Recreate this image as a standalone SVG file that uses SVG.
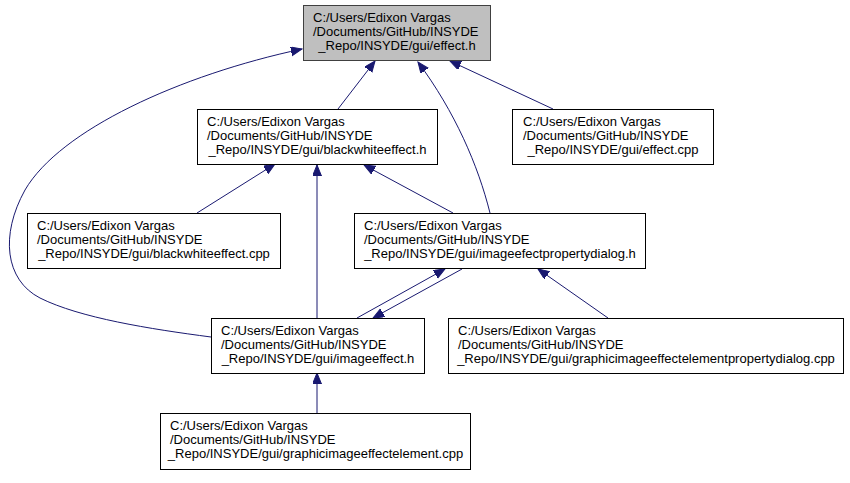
<svg xmlns="http://www.w3.org/2000/svg" width="850" height="483" viewBox="0 0 850 483">
<style>
.n rect{fill:#ffffff;stroke:#000000;stroke-width:1}
.n.h rect{fill:#bfbfbf;stroke:#404040}
.n text{font-family:"Liberation Sans",Arial,sans-serif;font-size:13px;fill:#000000}
.n text.c{text-anchor:middle}
.e path{fill:none;stroke:#191970;stroke-width:1;marker-end:url(#a)}
</style>
<defs>
<marker id="a" markerUnits="userSpaceOnUse" markerWidth="12" markerHeight="10" refX="11" refY="4.5" orient="auto" viewBox="0 0 12 10">
<path d="M0,0 L11,4.5 L0,9 z" fill="#191970" stroke="#191970" stroke-width="1"/>
</marker>
</defs>
<rect width="850" height="483" fill="#ffffff"/>
<g class="e" id="edges">
<path d="M338,109 L375,61"/>
<path d="M490,213 C478,165 455,112 418,62"/>
<path d="M553,109 L450,61"/>
<path d="M211,337 C150,329 80,318 40,298 C5,280 0,235 25,190 C60,130 180,75 302,49"/>
<path d="M197,213 L275,164"/>
<path d="M317,318 L317,165"/>
<path d="M453,213 L364,165"/>
<path d="M357,318 L445,269"/>
<path d="M462,269 L373,318"/>
<path d="M608,318 L538,269"/>
<path d="M317,413 L317,373"/>
</g>
<g class="n h" id="effect_h">
<rect x="303.5" y="5.5" width="187" height="55"/>
<text x="313" y="22">C:/Users/Edixon Vargas</text>
<text x="313" y="36">/Documents/GitHub/INSYDE</text>
<text class="c" x="397" y="50">_Repo/INSYDE/gui/effect.h</text>
</g>
<g class="n" id="blackwhiteeffect_h">
<rect x="197.5" y="109.5" width="240" height="55"/>
<text x="207" y="126">C:/Users/Edixon Vargas</text>
<text x="207" y="140">/Documents/GitHub/INSYDE</text>
<text class="c" x="317.5" y="154">_Repo/INSYDE/gui/blackwhiteeffect.h</text>
</g>
<g class="n" id="effect_cpp">
<rect x="512.5" y="109.5" width="201" height="55"/>
<text x="523" y="126">C:/Users/Edixon Vargas</text>
<text x="523" y="140">/Documents/GitHub/INSYDE</text>
<text class="c" x="613" y="154">_Repo/INSYDE/gui/effect.cpp</text>
</g>
<g class="n" id="blackwhiteeffect_cpp">
<rect x="27.5" y="213.5" width="253" height="55"/>
<text x="37" y="230">C:/Users/Edixon Vargas</text>
<text x="37" y="244">/Documents/GitHub/INSYDE</text>
<text class="c" x="154" y="258">_Repo/INSYDE/gui/blackwhiteeffect.cpp</text>
</g>
<g class="n" id="imageefectpropertydialog_h">
<rect x="354.5" y="213.5" width="291" height="55"/>
<text x="364" y="230">C:/Users/Edixon Vargas</text>
<text x="364" y="244">/Documents/GitHub/INSYDE</text>
<text class="c" x="500" y="258">_Repo/INSYDE/gui/imageefectpropertydialog.h</text>
</g>
<g class="n" id="imageeffect_h">
<rect x="211.5" y="318.5" width="213" height="55"/>
<text x="221" y="335">C:/Users/Edixon Vargas</text>
<text x="221" y="349">/Documents/GitHub/INSYDE</text>
<text class="c" x="318" y="363">_Repo/INSYDE/gui/imageeffect.h</text>
</g>
<g class="n" id="graphicimageeffectelementpropertydialog_cpp">
<rect x="448.5" y="318.5" width="395" height="55"/>
<text x="458" y="335">C:/Users/Edixon Vargas</text>
<text x="458" y="349">/Documents/GitHub/INSYDE</text>
<text class="c" x="646" y="363">_Repo/INSYDE/gui/graphicimageeffectelementpropertydialog.cpp</text>
</g>
<g class="n" id="graphicimageeffectelement_cpp">
<rect x="160.5" y="413.5" width="310" height="56"/>
<text x="170" y="430">C:/Users/Edixon Vargas</text>
<text x="170" y="444">/Documents/GitHub/INSYDE</text>
<text class="c" x="315.5" y="458">_Repo/INSYDE/gui/graphicimageeffectelement.cpp</text>
</g>
</svg>
